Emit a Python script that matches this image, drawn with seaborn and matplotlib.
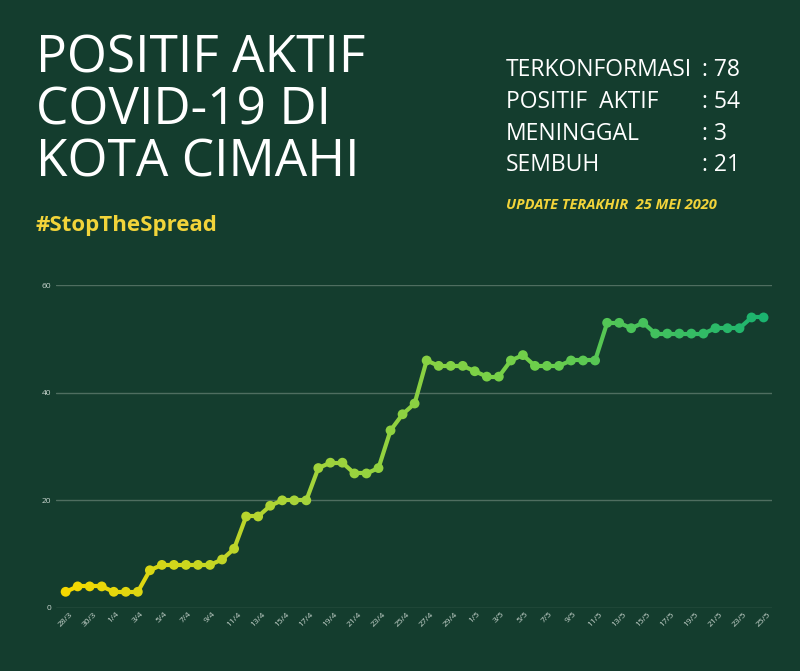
import matplotlib
matplotlib.use("Agg")
import matplotlib.pyplot as plt
import seaborn as sns
import numpy as np
import pandas as pd
from matplotlib.colors import LinearSegmentedColormap

dates = ([f"{d}/3" for d in range(28, 32)] + [f"{d}/4" for d in range(1, 31)]
         + [f"{d}/5" for d in range(1, 26)])
values = [3, 4, 4, 4, 3, 3, 3, 7, 8, 8, 8, 8, 8, 9, 11, 17, 17, 19, 20, 20, 20,
          26, 27, 27, 25, 25, 26, 33, 36, 38, 46, 45, 45, 45, 44, 43, 43, 46, 47,
          45, 45, 45, 46, 46, 46, 53, 53, 52, 53, 51, 51, 51, 51, 51, 52, 52, 52, 54, 54]
stats_labels = ["TERKONFORMASI", "POSITIF  AKTIF", "MENINGGAL", "SEMBUH"]
stats_values = [": 78", ": 54", ": 3", ": 21"]

bg = "#143d2e"
sns.set_style("dark")
plt.rcParams['font.family'] = ['Open Sans', 'DejaVu Sans']
fig = plt.figure(figsize=(8, 6.71), dpi=100, facecolor=bg)
ax = fig.add_axes([0.07, 0.094, 0.895, 0.481])
ax.set_facecolor(bg)

df = pd.DataFrame({"x": np.arange(len(values)), "y": values})
cmap = LinearSegmentedColormap.from_list("g", ["#f5d800", "#a6d43a", "#6fcf4a", "#1bb36f"])
n = len(values)
for i in range(n - 1):
    ax.plot(df.x[i:i+2], df.y[i:i+2], color=cmap(i / (n - 1)), lw=3, solid_capstyle="round", zorder=2)
sns.scatterplot(data=df, x="x", y="y", hue="x", palette=cmap, hue_norm=(0, n - 1),
                s=50, edgecolor="none", legend=False, ax=ax, zorder=3)

ax.set_ylim(0, 60)
ax.set_xlim(-0.8, n - 0.3)
ax.set_yticks([0, 20, 40, 60])
ax.yaxis.grid(True, color="#4f6e60", lw=1)
ax.xaxis.grid(False)
ax.set_xticks(np.arange(0, n, 2))
ax.set_xticklabels(dates[::2], rotation=45, fontsize=6, color="#c9d6cf")
ax.tick_params(axis="y", labelsize=6, labelcolor="#c9d6cf", length=0)
ax.tick_params(axis="x", length=0, pad=2)
ax.set_xlabel(""); ax.set_ylabel("")
for s in ax.spines.values():
    s.set_visible(False)

fig.text(0.045, 0.95, "POSITIF AKTIF\nCOVID-19 DI\nKOTA CIMAHI", color="white", fontsize=37,
         va="top", ha="left", linespacing=1.02, family=["Open Sans", "DejaVu Sans"])
fig.text(0.045, 0.655, "#StopTheSpread", color="#f2d43a", fontsize=16, fontweight="bold")
for i, (l, v) in enumerate(zip(stats_labels, stats_values)):
    y = 0.895 - i * 0.047
    fig.text(0.632, y, l, color="white", fontsize=16.5, va="center")
    fig.text(0.878, y, v, color="white", fontsize=16.5, va="center")
fig.text(0.632, 0.695, "UPDATE TERAKHIR  25 MEI 2020", color="#f2d43a", fontsize=10.5,
         fontweight="bold", fontstyle="italic", va="center")
fig.savefig("out.png", dpi=100, facecolor=bg)
